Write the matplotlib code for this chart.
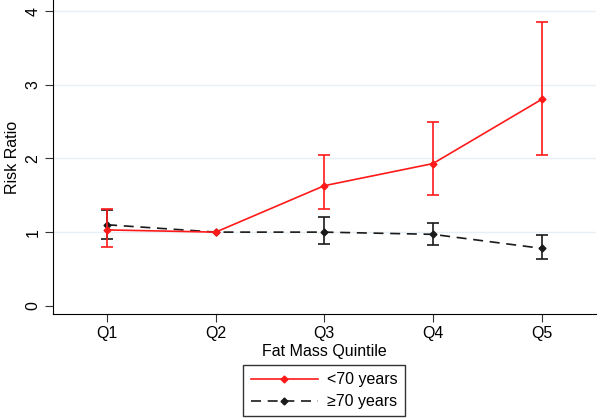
import matplotlib.pyplot as plt
import numpy as np

plt.rcParams['font.family'] = ['Liberation Sans', 'DejaVu Sans']

quintiles = ["Q1", "Q2", "Q3", "Q4", "Q5"]

# <70 years
young_rr = [1.03, 1.00, 1.63, 1.93, 2.80]
young_lo = [0.80, 1.00, 1.31, 1.51, 2.05]
young_hi = [1.31, 1.00, 2.05, 2.49, 3.85]

# >=70 years
old_rr = [1.10, 1.00, 1.00, 0.97, 0.78]
old_lo = [0.91, 1.00, 0.84, 0.82, 0.63]
old_hi = [1.30, 1.00, 1.21, 1.13, 0.96]

x = np.arange(1, len(quintiles) + 1)

fig = plt.figure(figsize=(6, 4.18), dpi=100)
ax = fig.add_axes([0.088, 0.249, 0.905, 0.751])

for yv in [1, 2, 3, 4]:
    ax.axhline(yv, color="#e8eff5", lw=1, zorder=0)

def draw(rr, lo, hi, color, ls, label):
    rr, lo, hi = map(np.array, (rr, lo, hi))
    has_ci = hi > lo
    ax.errorbar(x[has_ci], rr[has_ci],
                yerr=[rr[has_ci] - lo[has_ci], hi[has_ci] - rr[has_ci]],
                fmt="none", ecolor=color, elinewidth=1.2, capsize=4, capthick=1.2)
    ax.plot(x, rr, color=color, ls=ls, lw=1.2, marker="D", ms=3.5,
            label=label, dashes=(6, 4) if ls == "--" else (None, None))

draw(old_rr, old_lo, old_hi, "#1a1a1a", "--", "≥70 years")
draw(young_rr, young_lo, young_hi, "#ff1a1a", "-", "<70 years")

ax.set_xlim(0.5, 5.5)
ax.set_ylim(-0.11, 4.15)
ax.set_xticks(x)
ax.set_xticklabels(quintiles, fontsize=11.5)
ax.set_yticks([0, 1, 2, 3, 4])
ax.set_yticklabels(["0", "1", "2", "3", "4"], fontsize=11.5, rotation=90, va="center")
ax.set_xlabel("Fat Mass Quintile", fontsize=11.5, labelpad=2)
ax.set_ylabel("Risk Ratio", fontsize=11.5, labelpad=4)
ax.spines["top"].set_visible(False)
ax.spines["right"].set_visible(False)
ax.tick_params(length=6, color="#333333", pad=3)

handles, labels = ax.get_legend_handles_labels()
leg = ax.legend(handles[::-1], labels[::-1], loc="upper center",
                bbox_to_anchor=(0.5, -0.137), fontsize=11.5, frameon=True,
                fancybox=False, edgecolor="black", handlelength=4.2,
                handletextpad=0.6, borderpad=0.45, labelspacing=0.45)
leg.get_frame().set_linewidth(1.0)

fig.savefig("out.png", dpi=100)
